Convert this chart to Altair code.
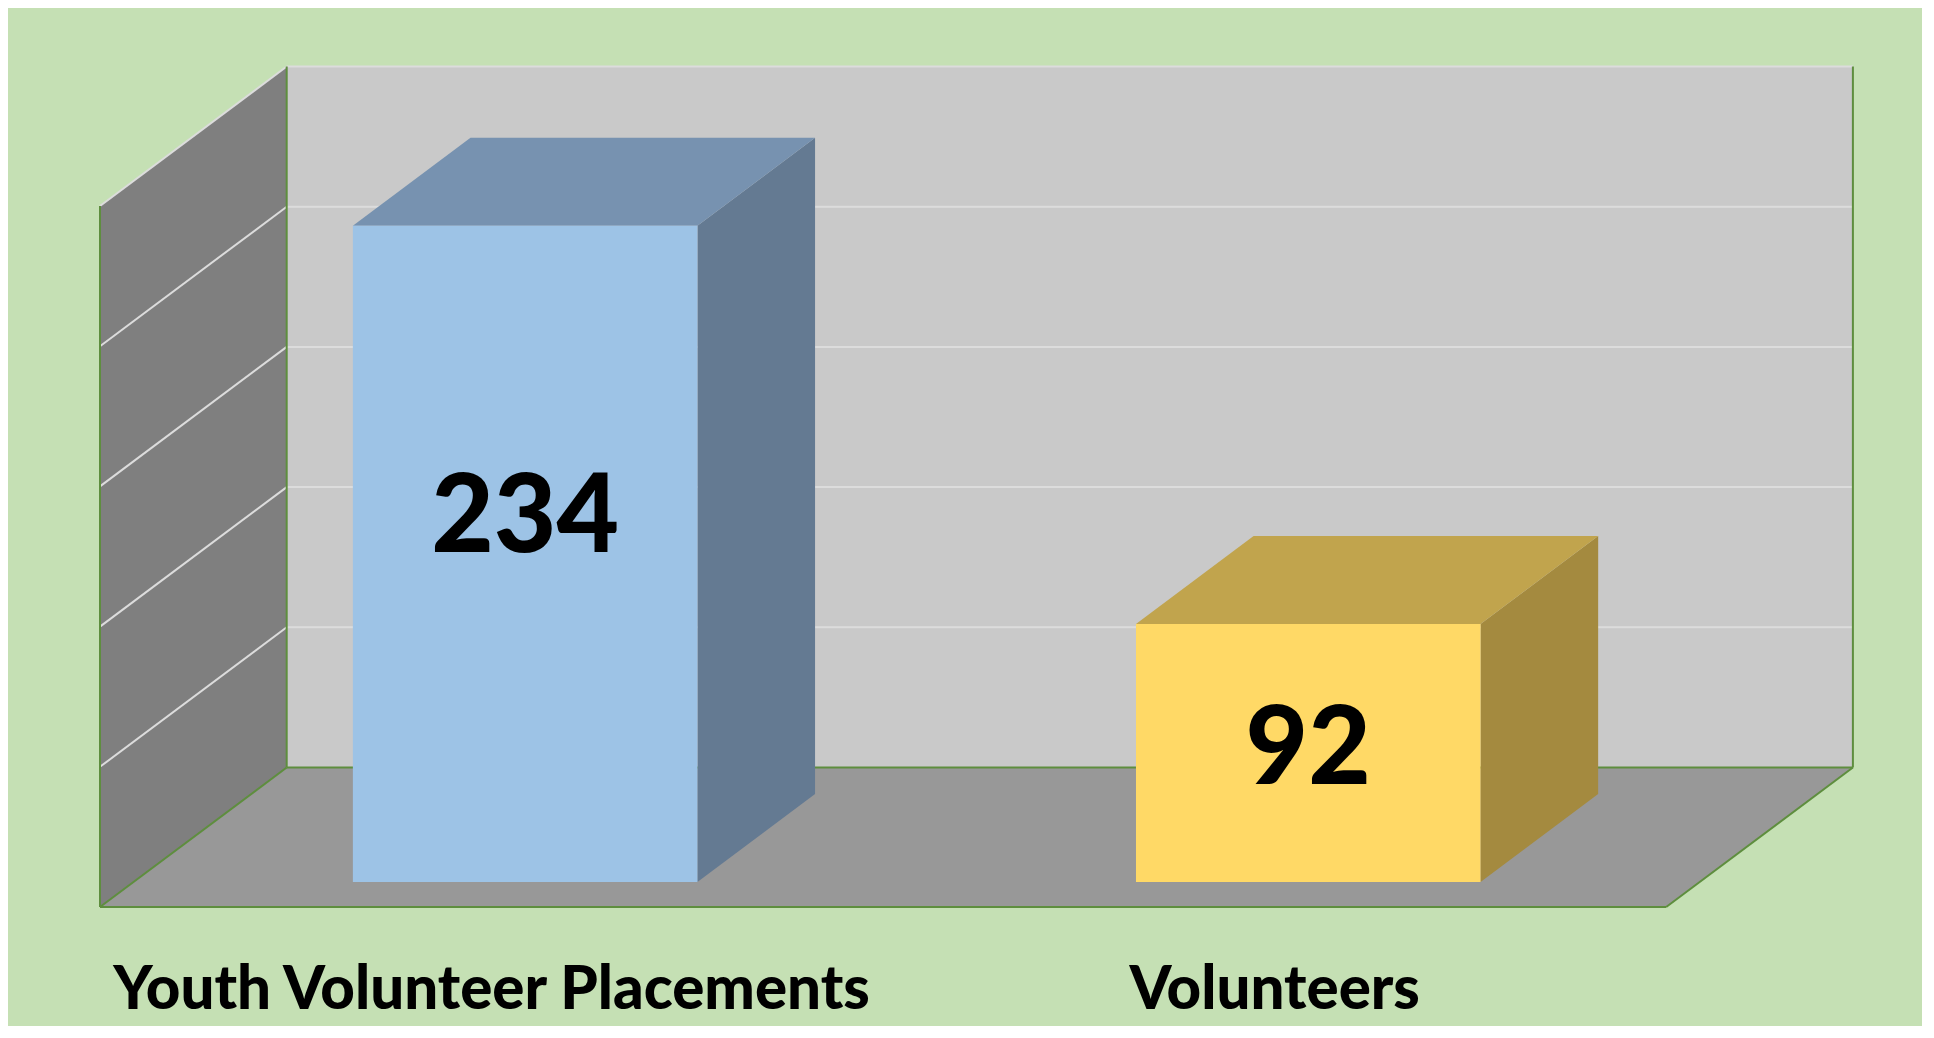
import altair as alt
import pandas as pd

# ---------------- data ----------------
categories = ["Youth Volunteer Placements", "Volunteers"]
values = [234, 92]
front_colors = ["#9DC3E6", "#FFD966"]
top_colors = ["#7792B0", "#C1A44D"]
side_colors = ["#647A92", "#A48A3F"]
grid_values = [50, 100, 150, 200, 250]
axis_max = 250

# ---------------- layout / oblique projection ----------------
W, H = 1914, 1018
ppu_x = 783.1            # px per category slot
ppu_y = 2.804            # px per value unit
origin_x = 92            # chart px of category 0 on the front floor edge
origin_y = 899           # chart px (from top) of value 0 on the front floor edge
depth_x = 186.7 / ppu_x  # shift (category units) from front to back of the box
depth_y = 139.5 / ppu_y  # shift (value units) from front to back of the box
bar_half = 0.22
d_front, d_back = 0.18, 0.81
n = len(categories)

x_scale = alt.Scale(domain=[-origin_x / ppu_x, (W - origin_x) / ppu_x], nice=False, zero=False)
y_scale = alt.Scale(domain=[-(H - origin_y) / ppu_y, origin_y / ppu_y], nice=False, zero=False)


def X(f):
    return alt.X(f, type="quantitative", scale=x_scale, axis=None, stack=None)


def Y(f):
    return alt.Y(f, type="quantitative", scale=y_scale, axis=None, stack=None)


# ---------------- walls & floor ----------------
back_wall = pd.DataFrame({"x": [depth_x], "x2": [n + depth_x],
                          "y": [depth_y], "y2": [axis_max + depth_y]})
side_wall = pd.DataFrame({"x": [0, depth_x], "y": [0, depth_y],
                          "y2": [axis_max, axis_max + depth_y]})
floor = pd.DataFrame({"y": [0, depth_y], "x": [0, depth_x], "x2": [n, n + depth_x]})

grid_rows = []
for g in grid_values:
    grid_rows.append({"x": depth_x, "x2": n + depth_x, "y": g + depth_y, "y2": g + depth_y})
    grid_rows.append({"x": 0, "x2": depth_x, "y": g, "y2": g + depth_y})
grid = pd.DataFrame(grid_rows)

border = pd.DataFrame([
    {"x": 0, "x2": 0, "y": 0, "y2": axis_max},
    {"x": depth_x, "x2": depth_x, "y": depth_y, "y2": axis_max + depth_y},
    {"x": n + depth_x, "x2": n + depth_x, "y": depth_y, "y2": axis_max + depth_y},
    {"x": 0, "x2": n, "y": 0, "y2": 0},
    {"x": depth_x, "x2": n + depth_x, "y": depth_y, "y2": depth_y},
    {"x": n, "x2": n + depth_x, "y": 0, "y2": depth_y},
    {"x": 0, "x2": depth_x, "y": 0, "y2": depth_y},
])

# ---------------- bars ----------------
front_rows, top_rows, side_rows, lab_rows, cat_rows = [], [], [], [], []
for i, (cat, v) in enumerate(zip(categories, values)):
    c = i + 0.5
    front_rows.append({"cat": cat, "col": front_colors[i],
                       "x": c - bar_half + d_front * depth_x, "x2": c + bar_half + d_front * depth_x,
                       "y": d_front * depth_y, "y2": v + d_front * depth_y})
    for d in (d_front, d_back):
        top_rows.append({"cat": cat, "col": top_colors[i], "y": v + d * depth_y,
                         "x": c - bar_half + d * depth_x, "x2": c + bar_half + d * depth_x})
        side_rows.append({"cat": cat, "col": side_colors[i], "x": c + bar_half + d * depth_x,
                          "y": d * depth_y, "y2": v + d * depth_y})
    lab_rows.append({"x": c + d_front * depth_x,
                     "y": d_front * depth_y + 0.583 * v - 7.3, "t": str(v)})
    cat_rows.append({"x": c, "y": -(1009 - 907) / ppu_y, "t": cat})

front = pd.DataFrame(front_rows)
top = pd.DataFrame(top_rows)
side = pd.DataFrame(side_rows)
labels = pd.DataFrame(lab_rows)
cats = pd.DataFrame(cat_rows)

# ---------------- layers ----------------
l_back = alt.Chart(back_wall).mark_rect(color="#C9C9C9").encode(x=X("x"), x2="x2", y=Y("y"), y2="y2")
l_side = alt.Chart(side_wall).mark_area(orient="vertical", color="#7F7F7F").encode(
    x=X("x"), y=Y("y"), y2="y2")
l_floor = alt.Chart(floor).mark_area(orient="horizontal", color="#989898").encode(
    y=Y("y"), x=X("x"), x2="x2")
l_grid = alt.Chart(grid).mark_rule(color="#DCDCDC", strokeWidth=2).encode(
    x=X("x"), x2="x2", y=Y("y"), y2="y2")
l_border = alt.Chart(border).mark_rule(color="#5E8E3E", strokeWidth=2).encode(
    x=X("x"), x2="x2", y=Y("y"), y2="y2")

l_bside = alt.Chart(side).mark_area(orient="vertical").encode(
    x=X("x"), y=Y("y"), y2="y2", detail="cat:N", color=alt.Color("col:N", scale=None))
l_btop = alt.Chart(top).mark_area(orient="horizontal").encode(
    y=Y("y"), x=X("x"), x2="x2", detail="cat:N", color=alt.Color("col:N", scale=None))
l_bfront = alt.Chart(front).mark_rect().encode(
    x=X("x"), x2="x2", y=Y("y"), y2="y2", color=alt.Color("col:N", scale=None))

l_labels = alt.Chart(labels).mark_text(font="Lato", fontWeight=900, fontSize=108,
                                       color="#000000", baseline="middle", align="center").encode(
    x=X("x"), y=Y("y"), text="t:N")
l_cats = alt.Chart(cats).mark_text(font="Lato", fontWeight=900, fontSize=60,
                                   color="#000000", baseline="alphabetic", align="center").encode(
    x=X("x"), y=Y("y"), text="t:N")

chart = alt.layer(
    l_back, l_side, l_floor, l_grid, l_border, l_bside, l_btop, l_bfront, l_labels, l_cats
).properties(
    width=W, height=H, background="#C5E0B4", padding=0, autosize="none"
).configure_view(stroke=None)

chart.save("out.html", embed_options={"renderer": "svg", "actions": False})
